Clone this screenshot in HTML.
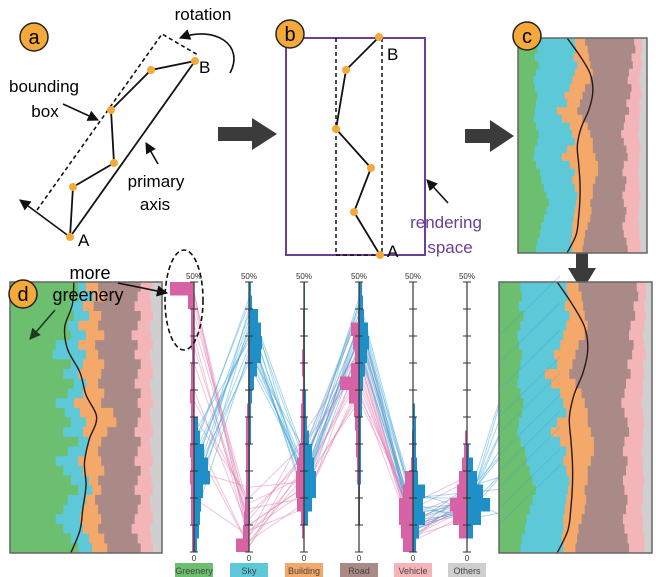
<!DOCTYPE html>
<html><head><meta charset="utf-8"><style>
html,body{margin:0;padding:0;background:#fff;}
svg{display:block;font-family:"Liberation Sans",sans-serif;}
</style></head><body>
<svg id="fig" width="656" height="577" viewBox="0 0 656 577" xmlns="http://www.w3.org/2000/svg">
<defs>
<marker id="ah" viewBox="0 0 10 10" refX="9" refY="5" markerWidth="7" markerHeight="7" orient="auto"><path d="M0,0 L10,5 L0,10 z" fill="#111"/></marker>
<marker id="ahg" viewBox="0 0 10 10" refX="9" refY="5" markerWidth="7" markerHeight="7" orient="auto"><path d="M0,0 L10,5 L0,10 z" fill="#1d3a24"/></marker>
</defs>
<g>
<line x1="70" y1="237" x2="20" y2="200" stroke="#111" stroke-width="1.6" marker-end="url(#ah)"/>
<polyline points="37,210 162,34 198,55" fill="none" stroke="#111" stroke-width="1.6" stroke-dasharray="4,3"/>
<line x1="70" y1="237" x2="195" y2="61" stroke="#111" stroke-width="1.8"/>
<polyline points="70,237 73,187 114,163 111,110 151,70 195,61" fill="none" stroke="#111" stroke-width="1.8"/>
<g fill="#f5a93a"><circle cx="70" cy="237" r="4"/><circle cx="73" cy="187" r="4"/><circle cx="114" cy="163" r="4"/><circle cx="111" cy="110" r="4"/><circle cx="151" cy="70" r="4"/><circle cx="195" cy="61" r="4"/></g>
<path d="M230,73 C245,45 215,25 180,38" fill="none" stroke="#111" stroke-width="1.6" marker-end="url(#ah)"/>
<text x="203" y="20" font-size="17" text-anchor="middle">rotation</text>
<text x="44" y="92" font-size="17" text-anchor="middle">bounding</text>
<text x="45" y="117" font-size="17" text-anchor="middle">box</text>
<line x1="63" y1="104" x2="98" y2="120" stroke="#111" stroke-width="1.6" marker-end="url(#ah)"/>
<text x="156" y="187" font-size="17" text-anchor="middle">primary</text>
<text x="155" y="210" font-size="17" text-anchor="middle">axis</text>
<line x1="158" y1="164" x2="146" y2="143" stroke="#111" stroke-width="1.6" marker-end="url(#ah)"/>
<text x="78" y="246" font-size="17">A</text>
<text x="199" y="73" font-size="17">B</text>
</g>
<g>
<rect x="286" y="38" width="139" height="217" fill="none" stroke="#6a3f96" stroke-width="2"/>
<line x1="336" y1="38" x2="336" y2="255" stroke="#111" stroke-width="1.5" stroke-dasharray="4,3"/>
<line x1="382" y1="38" x2="382" y2="255" stroke="#111" stroke-width="1.5" stroke-dasharray="4,3"/>
<line x1="336" y1="255" x2="382" y2="255" stroke="#111" stroke-width="1.5" stroke-dasharray="4,3"/>
<polyline points="379,37 346,70 336,129 371,168 354,212 380,255" fill="none" stroke="#111" stroke-width="1.8"/>
<g fill="#f5a93a"><circle cx="379" cy="37" r="4"/><circle cx="346" cy="70" r="4"/><circle cx="336" cy="129" r="4"/><circle cx="371" cy="168" r="4"/><circle cx="354" cy="212" r="4"/><circle cx="380" cy="255" r="4"/></g>
<text x="387" y="60" font-size="17">B</text>
<text x="387" y="257" font-size="17">A</text>
<text x="446" y="228" font-size="17" fill="#6a3f96" text-anchor="middle">rendering</text>
<text x="450" y="253" font-size="17" fill="#6a3f96" text-anchor="middle">space</text>
<line x1="448" y1="203" x2="427" y2="180" stroke="#111" stroke-width="1.6" marker-end="url(#ah)"/>
</g>
<path d="M218,127 L252,127 L252,118 L277,134 L252,150 L252,141 L218,141 z" fill="#3b3b3b"/>
<path d="M465,129 L490,129 L490,120 L514,136 L490,152 L490,143 L465,143 z" fill="#3b3b3b"/>
<path d="M576,245 L588,245 L588,268 L596,268 L582,291 L568,268 L576,268 z" fill="#3b3b3b"/>
<g id="streams"></g>
<g id="pcp"></g>
<ellipse cx="184" cy="300" rx="19" ry="50" fill="none" stroke="#111" stroke-width="1.6" stroke-dasharray="5,3"/>
<text x="90" y="279" font-size="18" text-anchor="middle">more</text>
<text x="88" y="301" font-size="18" text-anchor="middle">greenery</text>
<line x1="118" y1="283" x2="167" y2="293" stroke="#111" stroke-width="1.6" marker-end="url(#ah)"/>
<line x1="55" y1="310" x2="30" y2="339" stroke="#1d3a24" stroke-width="1.6" marker-end="url(#ahg)"/>
<g font-size="20" text-anchor="middle">
<circle cx="34" cy="37" r="14" fill="#f5a93a" stroke="#222" stroke-width="1.5"/><text x="34" y="44">a</text>
<circle cx="290" cy="34" r="14" fill="#f5a93a" stroke="#222" stroke-width="1.5"/><text x="290" y="41">b</text>
<circle cx="527" cy="36" r="14" fill="#f5a93a" stroke="#222" stroke-width="1.5"/><text x="527" y="43">c</text>
<circle cx="23" cy="294" r="14" fill="#f5a93a" stroke="#222" stroke-width="1.5"/><text x="23" y="301">d</text>
</g>
</svg>
<script>
// stacked composition (cumulative %), panel c / right zoom
const cGreen=[14,15,13,16,14,12,13,15,14,13,12,14,16,15,13,12,14,17,18,20,22,24,22,20,18,17,15,14];
const cSky=[44,45,43,46,44,42,40,36,38,30,34,40,42,44,38,34,40,44,42,44,46,45,44,43,42,42,41,42];
const cBuild=[52,54,55,56,58,56,52,50,48,46,50,54,56,58,58,60,62,62,60,58,58,56,57,56,54,52,51,50];
const cRoad=[90,91,88,89,86,85,88,87,84,86,83,82,80,82,84,85,82,81,84,83,81,82,84,83,81,82,84,85];
const cVeh=[96,96,95,96,95,94,95,96,94,95,94,94,93,94,95,94,94,93,94,94,95,94,94,93,94,94,95,95];
const cCurve=[38,48,56,58,55,49,46,47,48,48,47,45,38];
// panel d
const dGreen=[45,45,40,42,38,40,30,28,40,35,42,38,30,36,40,35,45,38,30,35,40,45,38,35,30,35,40,45];
const dSky=[50,55,48,52,45,50,45,50,48,45,50,48,42,46,50,48,52,50,45,48,52,54,50,48,46,48,52,54];
const dBuild=[58,62,55,60,58,62,56,58,62,60,58,62,60,68,70,64,60,58,60,62,58,60,56,58,60,58,62,64];
const dRoad=[86,84,82,86,84,80,84,82,86,84,82,86,84,86,84,82,86,84,82,86,84,82,86,84,82,80,84,86];
const dVeh=[94,92,93,94,92,93,94,92,93,94,92,93,94,92,93,94,92,93,94,92,93,94,92,93,94,92,93,94];
const dCurve=[42,41,36,38,46,50,57,52,49,50,48,46,40];
// parallel coordinates
const categories=["Greenery","Sky","Building","Road","Vehicle","Others"];
const pinkHist=[[24,6,3,3,3,2,3,3,4,3,3,3,4,3,4,3,3,3,2,2],[0,0,0,0,1,1,1,1,1,2,3,3,3,3,3,3,4,5,6,13],[0,0,1,1,1,2,2,1,2,3,3,3,5,7,8,8,7,3,2,0],[0,0,1,8,6,4,8,19,10,5,4,3,3,2,2,1,1,1,0,0],[0,0,0,0,0,0,0,0,0,0,0,1,1,2,8,10,14,14,12,10],[0,0,0,0,0,0,0,0,0,0,0,2,3,5,8,10,17,14,8,0]];
const blueHist=[[0,0,0,0,0,0,0,0,0,0,4,6,10,14,16,9,7,6,5,3],[2,3,9,12,13,12,8,5,3,2,2,2,1,1,1,1,1,1,0,0],[1,1,1,1,1,1,1,1,2,2,3,5,8,10,12,12,8,4,0,0],[3,4,5,9,10,8,6,4,3,3,2,2,2,2,2,1,1,1,0,0],[0,0,0,0,0,0,0,0,0,2,3,3,3,4,5,12,10,12,6,3],[0,0,0,0,0,0,0,0,0,0,0,0,2,6,10,16,23,14,6,0]];
const pinkRecords=[[48,5,12,35,4,8],[46,3,15,38,6,10],[44,8,10,30,3,9],[40,2,14,33,5,7],[35,6,18,36,2,12],[30,4,11,40,7,11],[25,10,20,34,3,6],[20,1,16,42,5,8],[15,12,13,28,8,13],[10,3,22,37,4,9],[48,2,9,31,6,10],[42,7,17,39,2,7],[38,5,12,29,9,14],[22,1,19,44,3,8],[28,9,14,32,5,10],[47,4,8,36,4,9]];
const blueRecords=[[18,40,16,46,8,9],[15,44,12,42,5,8],[12,38,14,40,10,10],[20,46,18,44,6,7],[8,42,10,38,4,11],[14,35,15,47,9,6],[22,39,13,41,7,9],[10,45,17,39,5,12],[16,41,11,43,11,8],[6,37,19,45,3,10],[13,43,14,37,8,7],[19,47,12,40,6,9],[11,36,16,42,10,11],[17,40,13,46,4,8]];
const blueRightEnds=[40,30,22,18,12,8,25,15,35,5];
const tickLabelsTop=["50%","50%","50%","50%","50%","50%"];
const tickLabelsBottom=["0","0","0","0","0","0"];

const NS="http://www.w3.org/2000/svg";
function mk(tag,attrs,parent){const e=document.createElementNS(NS,tag);for(const k in attrs)e.setAttribute(k,attrs[k]);parent.appendChild(e);return e;}
const colors=["#6bbf6e","#5cc8d8","#f4a86a","#a98a86","#f3b5b8","#cfcfcf"];

function stream(name,x0,y0,w,h,bounds,curve,parent){
  const g=mk('g',{},parent);
  
  
  const bg=mk('rect',{x:x0,y:y0,width:w,height:h,fill:colors[5]},g);
  
  
  const names=['vehicle-area','road-area','building-area','sky-area','greenery-area'];
  for(let k=bounds.length-1;k>=0;k--){
    const arr=bounds[k];const n=arr.length;
    let pts=[[x0,y0]];
    for(let i=0;i<n;i++){const ya=y0+h*i/n,yb=y0+h*(i+1)/n;const xx=x0+w*arr[i]/100;pts.push([xx,ya],[xx,yb]);}
    pts.push([x0,y0+h]);
    const p=mk('polygon',{points:pts.map(p=>p.join(',')).join(' '),fill:colors[k]},g);
    
    
  }
  const m=curve.length;
  const cp=curve.map((v,i)=>[x0+w*v/100,y0+h*i/(m-1)]);
  let d='M'+cp[0].join(',');
  for(let i=0;i<m-1;i++){const p0=cp[Math.max(0,i-1)],p1=cp[i],p2=cp[i+1],p3=cp[Math.min(m-1,i+2)];
    d+=' C'+(p1[0]+(p2[0]-p0[0])/6)+','+(p1[1]+(p2[1]-p0[1])/6)+' '+(p2[0]-(p3[0]-p1[0])/6)+','+(p2[1]-(p3[1]-p1[1])/6)+' '+p2.join(',');}
  const c=mk('path',{d:d,fill:'none',stroke:'#2a1a14','stroke-width':1.4},g);
  
  
  const fr=mk('rect',{x:x0,y:y0,width:w,height:h,fill:'none',stroke:'#666','stroke-width':1.5},g);
  
  
}
const S=document.getElementById('streams');
stream('panel-c-stream',518,38,129,215,[cGreen,cSky,cBuild,cRoad,cVeh],cCurve,S);
stream('panel-d-stream',10,282,152,271,[dGreen,dSky,dBuild,dRoad,dVeh],dCurve,S);

const P=document.getElementById('pcp');
const axX=[194,249,304,359,413,467];
const yTop=282,yBot=552;
function yS(v){return yBot-(yBot-yTop)*v/50;}
const lines=mk('g',{},P);


pinkRecords.forEach(r=>{const pl=mk('polyline',{points:r.map((v,i)=>axX[i]+','+yS(v)).join(' '),fill:'none',stroke:'#e07bb0','stroke-opacity':0.45,'stroke-width':1},lines);
  
  });
blueRecords.forEach((r,j)=>{const pts=r.map((v,i)=>axX[i]+','+yS(v));pts.push('520,'+yS(blueRightEnds[j%blueRightEnds.length]));
  const pl=mk('polyline',{points:pts.join(' '),fill:'none',stroke:'#3fa4d6','stroke-opacity':0.45,'stroke-width':1},lines);
  
  });
const binH=(yBot-yTop)/20;
categories.forEach((cat,i)=>{
  const g=mk('g',{},P);
  
  
  pinkHist[i].forEach((w,b)=>{if(w>0){const r=mk('rect',{x:axX[i]-w,y:yTop+b*binH,width:w,height:binH,fill:'#d862a6'},g);
    
    }});
  blueHist[i].forEach((w,b)=>{if(w>0){const r=mk('rect',{x:axX[i],y:yTop+b*binH,width:w,height:binH,fill:'#1f8fc7'},g);
    
    }});
  mk('line',{x1:axX[i],y1:yTop,x2:axX[i],y2:yBot,stroke:'#333','stroke-width':1.2},g);
  for(let t=0;t<=10;t++){mk('line',{x1:axX[i]-4,x2:axX[i]+4,y1:yS(t*5),y2:yS(t*5),stroke:'#333','stroke-width':1},g);}
  const tt=mk('text',{x:axX[i],y:279,'font-size':8,'text-anchor':'middle',fill:'#333'},g);tt.textContent=tickLabelsTop[i];
  const tb=mk('text',{x:axX[i],y:561,'font-size':8,'text-anchor':'middle',fill:'#333'},g);tb.textContent=tickLabelsBottom[i];
  const lb=mk('rect',{x:axX[i]-19,y:563,width:38,height:14,fill:colors[i]},g);
  
  
  const lt=mk('text',{x:axX[i],y:574,'font-size':9,'text-anchor':'middle',fill:'#444'},g);lt.textContent=cat;
});
stream('right-zoom-stream',499,282,153,271,[cGreen,cSky,cBuild,cRoad,cVeh],cCurve,P);
const ov=mk('g',{},P);


blueRightEnds.forEach(v=>{mk('line',{x1:499,y1:yS(v),x2:560,y2:yS(v)-60,stroke:'#3fa4d6','stroke-opacity':0.35,'stroke-width':1},ov);});
</script>
</body></html>
